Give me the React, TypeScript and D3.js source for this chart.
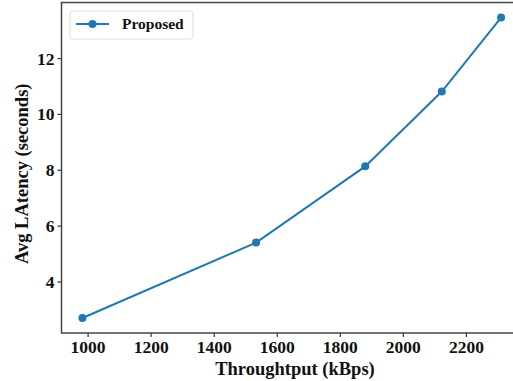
import React from "react";
import * as d3 from "d3";

// throughput (kBps) vs avg latency (s)
const throughput = [982, 1533, 1879, 2122, 2310];
const latency = [2.71, 5.41, 8.14, 10.82, 13.47];
const xTicks = [1000, 1200, 1400, 1600, 1800, 2000, 2200];
const yTicks = [4, 6, 8, 10, 12];
const seriesName = "Proposed";

const W = 513;
const H = 381;
const margin = { left: 61.5, right: -9, top: 2.5, bottom: 48 };
const color = "#1f77b4";
const font = "'Liberation Serif', 'Times New Roman', serif";

export default function App() {
  const innerW = W - margin.left - margin.right;
  const innerH = H - margin.top - margin.bottom;

  const xPad = (d3.max(throughput)! - d3.min(throughput)!) * 0.05;
  const yPad = (d3.max(latency)! - d3.min(latency)!) * 0.05;

  const x = d3
    .scaleLinear()
    .domain([d3.min(throughput)! - xPad, d3.max(throughput)! + xPad])
    .range([margin.left, margin.left + innerW]);
  const y = d3
    .scaleLinear()
    .domain([d3.min(latency)! - yPad, d3.max(latency)! + yPad])
    .range([margin.top + innerH, margin.top]);

  const points = throughput.map((t, i) => ({ t, l: latency[i] }));
  const line = d3
    .line<{ t: number; l: number }>()
    .x((d) => x(d.t))
    .y((d) => y(d.l));

  const bottom = margin.top + innerH;

  return (
    <div style={{ position: "absolute", left: 0, top: 0 }}>
      <svg width={W} height={H} style={{ display: "block", background: "#fff" }}>
        <g fontFamily={font} fontWeight="bold" fill="#111">
          {/* x ticks */}
          {xTicks.map((t) => (
            <g key={t}>
              <line x1={x(t)} x2={x(t)} y1={bottom} y2={bottom + 4} stroke="#333" strokeWidth={1.2} />
              <text x={x(t)} y={bottom + 20} textAnchor="middle" fontSize={17.5}>
                {t}
              </text>
            </g>
          ))}
          {/* y ticks */}
          {yTicks.map((t) => (
            <g key={t}>
              <line x1={margin.left - 4} x2={margin.left} y1={y(t)} y2={y(t)} stroke="#333" strokeWidth={1.2} />
              <text x={margin.left - 7} y={y(t)} dy="0.34em" textAnchor="end" fontSize={17.5}>
                {t}
              </text>
            </g>
          ))}
          <text x={295} y={375} textAnchor="middle" fontSize={18.5}>
            Throughtput (kBps)
          </text>
          <text
            transform={`translate(28, ${(margin.top + bottom) / 2 + 6}) rotate(-90)`}
            textAnchor="middle"
            fontSize={18.5}
          >
            Avg LAtency (seconds)
          </text>
        </g>

        <path d={line(points) || ""} fill="none" stroke={color} strokeWidth={2} />
        {points.map((p, i) => (
          <circle key={i} cx={x(p.t)} cy={y(p.l)} r={4} fill={color} />
        ))}

        {/* frame */}
        <rect
          x={margin.left}
          y={margin.top}
          width={innerW}
          height={innerH}
          fill="none"
          stroke="#444"
          strokeWidth={1.5}
        />

        {/* legend */}
        <g>
          <rect x={70} y={11} width={123} height={28} rx={3} fill="#fff" fillOpacity={0.8} stroke="#ddd" strokeWidth={1} />
          <line x1={76} x2={109} y1={24} y2={24} stroke={color} strokeWidth={2} />
          <circle cx={92.5} cy={24} r={4} fill={color} />
          <text x={122} y={24} dy="0.35em" fontFamily={font} fontWeight="bold" fontSize={15.5} fill="#111">
            {seriesName}
          </text>
        </g>
      </svg>
    </div>
  );
}
